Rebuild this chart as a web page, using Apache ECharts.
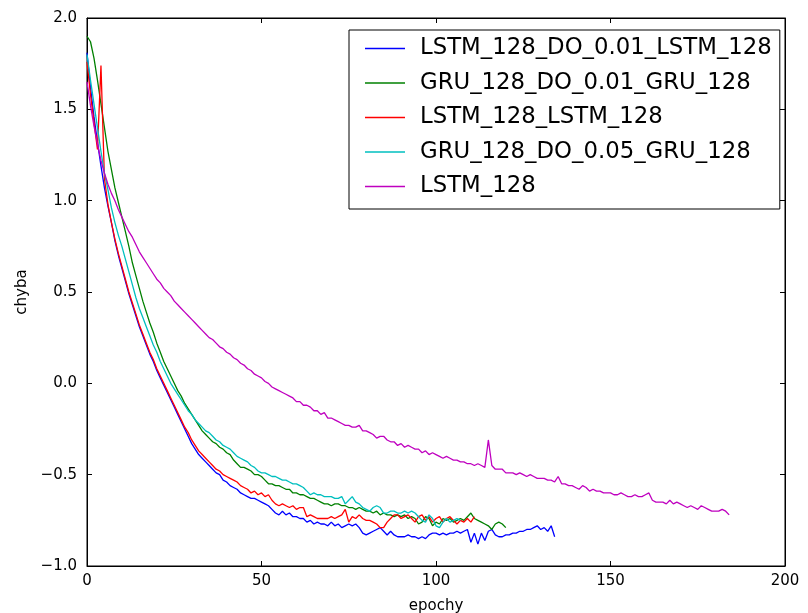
<!DOCTYPE html>
<html><head><meta charset="utf-8">
<script src="https://cdn.jsdelivr.net/npm/echarts@6/dist/echarts.min.js"></script>
<style>html,body{margin:0;padding:0;background:#fff}#c{width:808px;height:613px}</style>
</head><body><div id="c"></div>
<script>
const seriesNames = ["LSTM_128_DO_0.01_LSTM_128","GRU_128_DO_0.01_GRU_128","LSTM_128_LSTM_128","GRU_128_DO_0.05_GRU_128","LSTM_128"];
const xTicks = [0,50,100,150,200];
const yTicks = [-1.0,-0.5,0.0,0.5,1.0,1.5,2.0];

const lstmDoLstm = [1.81,1.62,1.46,1.32,1.19,1.07,0.97,0.88,0.78,0.70,0.63,0.56,0.49,0.43,0.37,0.31,0.26,0.21,0.16,0.12,
0.07,0.03,-0.01,-0.05,-0.09,-0.13,-0.17,-0.21,-0.25,-0.29,-0.33,-0.36,-0.39,-0.41,-0.43,-0.45,-0.47,-0.49,-0.50,-0.53,
-0.54,-0.56,-0.57,-0.58,-0.60,-0.61,-0.62,-0.63,-0.63,-0.64,-0.65,-0.66,-0.67,-0.69,-0.71,-0.72,-0.70,-0.72,-0.71,-0.73,
-0.73,-0.74,-0.74,-0.76,-0.75,-0.77,-0.76,-0.77,-0.77,-0.78,-0.76,-0.78,-0.77,-0.79,-0.78,-0.77,-0.78,-0.77,-0.79,-0.82,
-0.83,-0.82,-0.81,-0.80,-0.79,-0.81,-0.83,-0.81,-0.83,-0.84,-0.84,-0.84,-0.83,-0.84,-0.84,-0.85,-0.84,-0.85,-0.83,-0.82,
-0.82,-0.83,-0.82,-0.83,-0.82,-0.82,-0.81,-0.82,-0.81,-0.80,-0.87,-0.82,-0.88,-0.82,-0.86,-0.81,-0.80,-0.83,-0.84,-0.84,
-0.83,-0.83,-0.82,-0.82,-0.81,-0.81,-0.80,-0.80,-0.79,-0.78,-0.80,-0.79,-0.81,-0.78,-0.84];

const gruDo01Gru = [1.90,1.87,1.78,1.66,1.53,1.40,1.27,1.17,1.07,0.99,0.91,0.83,0.75,0.66,0.59,0.52,0.45,0.39,0.33,0.28,
0.22,0.17,0.12,0.08,0.04,0.00,-0.04,-0.07,-0.11,-0.14,-0.17,-0.20,-0.23,-0.26,-0.28,-0.30,-0.32,-0.33,-0.35,-0.36,
-0.38,-0.39,-0.42,-0.44,-0.46,-0.46,-0.47,-0.48,-0.50,-0.50,-0.51,-0.53,-0.55,-0.55,-0.56,-0.56,-0.57,-0.58,-0.58,-0.60,
-0.60,-0.61,-0.61,-0.62,-0.63,-0.63,-0.64,-0.65,-0.66,-0.66,-0.67,-0.66,-0.66,-0.67,-0.67,-0.68,-0.68,-0.69,-0.68,-0.69,
-0.70,-0.70,-0.71,-0.70,-0.72,-0.71,-0.72,-0.72,-0.73,-0.72,-0.73,-0.72,-0.74,-0.73,-0.74,-0.77,-0.76,-0.73,-0.74,-0.78,
-0.76,-0.77,-0.74,-0.75,-0.74,-0.76,-0.75,-0.74,-0.75,-0.73,-0.71,-0.74,-0.75,-0.76,-0.77,-0.78,-0.80,-0.77,-0.76,-0.77,-0.79];

const lstmLstm = [1.76,1.58,1.43,1.28,1.74,1.12,0.98,0.88,0.79,0.71,0.64,0.57,0.50,0.44,0.38,0.32,0.27,0.22,0.17,0.13,
0.08,0.04,0.00,-0.04,-0.08,-0.12,-0.16,-0.20,-0.24,-0.27,-0.31,-0.34,-0.37,-0.39,-0.41,-0.43,-0.45,-0.47,-0.48,-0.50,
-0.51,-0.52,-0.53,-0.54,-0.56,-0.57,-0.58,-0.60,-0.59,-0.61,-0.60,-0.62,-0.61,-0.64,-0.66,-0.67,-0.66,-0.67,-0.68,-0.67,
-0.69,-0.68,-0.68,-0.73,-0.72,-0.73,-0.74,-0.74,-0.74,-0.74,-0.73,-0.74,-0.73,-0.72,-0.69,-0.76,-0.73,-0.74,-0.72,-0.74,
-0.75,-0.75,-0.76,-0.77,-0.79,-0.79,-0.76,-0.74,-0.72,-0.72,-0.74,-0.73,-0.72,-0.74,-0.76,-0.73,-0.72,-0.75,-0.73,-0.76,
-0.74,-0.73,-0.76,-0.74,-0.73,-0.75,-0.77,-0.75,-0.76,-0.74,-0.76,-0.73];

const gruDo05Gru = [1.80,1.66,1.53,1.40,1.27,1.15,1.06,0.96,0.88,0.81,0.75,0.68,0.61,0.54,0.47,0.41,0.36,0.31,0.26,0.21,
0.17,0.12,0.08,0.04,0.00,-0.03,-0.06,-0.09,-0.12,-0.15,-0.17,-0.20,-0.22,-0.24,-0.26,-0.27,-0.29,-0.31,-0.32,-0.34,
-0.35,-0.36,-0.38,-0.40,-0.41,-0.42,-0.43,-0.45,-0.46,-0.48,-0.49,-0.49,-0.50,-0.51,-0.51,-0.52,-0.53,-0.53,-0.54,-0.55,
-0.55,-0.56,-0.57,-0.59,-0.61,-0.60,-0.61,-0.61,-0.62,-0.62,-0.62,-0.63,-0.63,-0.62,-0.66,-0.64,-0.62,-0.65,-0.66,-0.68,
-0.69,-0.70,-0.68,-0.67,-0.68,-0.71,-0.71,-0.70,-0.70,-0.71,-0.71,-0.70,-0.71,-0.70,-0.71,-0.73,-0.75,-0.76,-0.72,-0.74,
-0.78,-0.79,-0.76,-0.74,-0.76,-0.75,-0.74,-0.75];

const lstm128 = [1.65,1.52,1.41,1.31,1.22,1.15,1.09,1.04,1.00,0.95,0.91,0.87,0.83,0.80,0.76,0.72,0.69,0.66,0.63,0.60,
0.57,0.55,0.52,0.50,0.48,0.45,0.43,0.41,0.39,0.37,0.35,0.33,0.31,0.29,0.27,0.25,0.24,0.22,0.20,0.19,
0.17,0.16,0.14,0.13,0.11,0.10,0.08,0.07,0.05,0.04,0.03,0.01,0.00,-0.02,-0.03,-0.04,-0.05,-0.06,-0.07,-0.08,
-0.10,-0.10,-0.12,-0.12,-0.13,-0.15,-0.15,-0.17,-0.16,-0.19,-0.19,-0.20,-0.21,-0.22,-0.23,-0.23,-0.24,-0.24,-0.23,-0.26,
-0.26,-0.27,-0.28,-0.30,-0.29,-0.29,-0.31,-0.32,-0.32,-0.34,-0.33,-0.35,-0.34,-0.35,-0.36,-0.36,-0.38,-0.37,-0.39,-0.38,
-0.39,-0.40,-0.41,-0.40,-0.41,-0.42,-0.42,-0.43,-0.43,-0.44,-0.44,-0.45,-0.44,-0.45,-0.46,-0.31,-0.45,-0.47,-0.47,-0.47,
-0.49,-0.49,-0.49,-0.50,-0.49,-0.50,-0.51,-0.50,-0.51,-0.52,-0.52,-0.52,-0.53,-0.53,-0.54,-0.51,-0.55,-0.55,-0.56,-0.56,
-0.57,-0.58,-0.56,-0.57,-0.59,-0.58,-0.59,-0.59,-0.60,-0.60,-0.60,-0.61,-0.61,-0.60,-0.61,-0.62,-0.62,-0.61,-0.62,-0.62,
-0.61,-0.60,-0.64,-0.65,-0.65,-0.65,-0.66,-0.64,-0.66,-0.65,-0.66,-0.67,-0.68,-0.67,-0.68,-0.69,-0.67,-0.68,-0.69,-0.70,
-0.70,-0.70,-0.69,-0.70,-0.72];

const seriesValues = [lstmDoLstm, gruDo01Gru, lstmLstm, gruDo05Gru, lstm128];
const colors = ["#0000ff","#008000","#ff0000","#00bfbf","#bf00bf"];
const FONT = "DejaVu Sans";

const chart = echarts.init(document.getElementById('c'), null, {renderer:'canvas'});
const fmtY = v => (v < 0 ? '\u2212' : '') + Math.abs(v).toFixed(1);
const tickCommon = {show:true, inside:true, length:5, lineStyle:{color:'#000', width:1}};
const lineCommon = {show:true, onZero:false, lineStyle:{color:'#000', width:1}};
const opt = {
  animation:false,
  backgroundColor:'#fff',
  grid:{left:87, right:23, top:18, bottom:47, containLabel:false, outerBoundsMode:'none',
        show:true, borderColor:'#000', borderWidth:1, backgroundColor:'transparent'},
  legend:{
    orient:'vertical', left:349, top:30,
    data:seriesNames, icon:'rect', itemWidth:40, itemHeight:1.5, itemGap:11.5,
    textStyle:{fontFamily:FONT, fontSize:22.8, lineHeight:23, color:'#000', padding:[0,0,0,10]},
    borderColor:'#000', borderWidth:1, backgroundColor:'#fff', borderRadius:0,
    padding:[7,8,11,16]
  },
  xAxis:[{
    type:'value', min:xTicks[0], max:xTicks[xTicks.length-1], interval:50,
    name:'epochy', nameLocation:'middle', nameGap:33,
    nameTextStyle:{fontFamily:FONT, fontSize:15, color:'#000'},
    axisLine:lineCommon,
    axisTick:tickCommon, splitLine:{show:false},
    axisLabel:{fontFamily:FONT, fontSize:15, color:'#000', margin:8}
  },{
    type:'value', position:'top', min:0, max:200, interval:50,
    axisLine:lineCommon, axisTick:tickCommon, axisLabel:{show:false}, splitLine:{show:false}
  }],
  yAxis:[{
    type:'value', min:yTicks[0], max:yTicks[yTicks.length-1], interval:0.5,
    name:'chyba', nameLocation:'middle', nameGap:57, nameRotate:90,
    nameTextStyle:{fontFamily:FONT, fontSize:15, color:'#000'},
    axisLine:lineCommon,
    axisTick:tickCommon, splitLine:{show:false},
    axisLabel:{fontFamily:FONT, fontSize:15, color:'#000', margin:10, formatter:fmtY}
  },{
    type:'value', position:'right', min:-1, max:2, interval:0.5,
    axisLine:lineCommon, axisTick:tickCommon, axisLabel:{show:false}, splitLine:{show:false}
  }],
  series: seriesNames.map((n,i)=>({
    name:n, type:'line', symbol:'none', smooth:false,
    color:colors[i],
    lineStyle:{color:colors[i], width:1.3},
    data: seriesValues[i].map((v,k)=>[k,v])
  }))
};
chart.setOption(opt);
</script></body></html>
